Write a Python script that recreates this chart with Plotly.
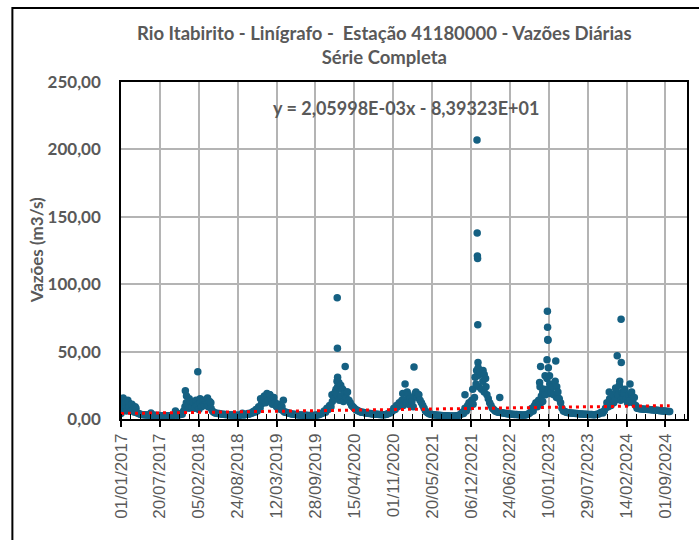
import pandas as pd
import plotly.graph_objects as go

# ---------------- data ----------------
# weekly readings of daily flow (m3/s), one value every 7 days starting 1 Jan of each year
vazao_2017 = [4, 8, 12, 10, 6, 14, 9, 6, 11, 7, 5, 8, 4.5, 4, 3.5, 3.3, 3.2,
              3.1, 3, 2.9, 2.9, 2.8, 4.5, 2.8, 2.7, 2.7, 2.6, 2.6, 2.6, 2.5, 2.5,
              2.5, 2.5, 2.4, 2.4, 2.4, 2.4, 2.5, 2.6, 2.8, 6, 2.8, 3, 3.2,
              4, 3.5, 6, 9, 12, 10, 8, 13]
vazao_2018 = [9, 12, 8, 14, 10, 7, 12, 9, 13, 10, 14, 11, 9, 13, 8, 6, 5,
              4.5, 4.2, 4, 4, 3.8, 3.6, 3.5, 3.4, 3.3, 3.2, 3.1, 3, 3, 2.9,
              2.9, 2.8, 2.8, 2.8, 2.8, 3, 4.2, 3, 3.2, 3.5, 4, 3.6, 4.5,
              4.2, 5.5, 5, 7, 6, 9, 8, 11]
vazao_2019 = [13, 16, 12, 17, 14, 18, 15, 11, 16, 12, 9, 11, 8, 7, 9, 6, 5,
              5, 4.6, 4.3, 4, 3.8, 3.6, 3.5, 3.3, 3.2, 3, 3, 2.9, 2.8, 2.8,
              2.7, 2.7, 2.6, 2.6, 2.6, 2.6, 2.6, 2.7, 2.8, 3, 3.2, 3.5, 4,
              4.5, 6, 5, 8, 7, 10, 9, 13]
vazao_2020 = [15, 20, 18, 24, 14, 17, 22, 13, 19, 16, 20, 14, 12, 10, 9, 8, 7,
              6.5, 6, 5.5, 5, 5, 4.8, 4.5, 4.4, 4.2, 4, 4, 3.8, 3.8, 3.6,
              3.5, 3.5, 3.4, 3.3, 3.2, 3.2, 3.1, 3.3, 3.5, 4, 4.5, 5, 6,
              8, 7, 10, 9, 12, 11, 14, 10]
vazao_2021 = [14, 12, 18, 11, 10, 13, 9, 17, 20, 16, 18, 14, 12, 10, 8, 6, 5,
              4.2, 3.8, 3.5, 3.3, 3.1, 3, 2.9, 2.8, 2.7, 2.6, 2.6, 2.5, 2.5, 2.4,
              2.4, 2.3, 2.3, 2.2, 2.2, 2.2, 2.3, 2.4, 2.6, 3, 3.5, 5, 4,
              8, 6, 10, 12, 9, 14, 11, 16]
vazao_2022 = [26, 32, 24, 35, 22, 28, 20, 30, 18, 15, 12, 10, 8, 7, 6, 5.5, 5,
              5, 4.8, 4.6, 4.4, 4.2, 4, 3.9, 3.8, 3.7, 3.6, 3.5, 3.4, 3.3, 3.3,
              3.2, 3.1, 3, 3, 3, 3, 3.2, 3.5, 4, 5, 8, 6, 10,
              12, 9, 14, 11, 17, 13, 22, 18]
vazao_2023 = [30, 22, 26, 20, 24, 18, 28, 16, 20, 15, 12, 8, 6, 5.5, 5, 4.8, 4.6,
              4.5, 4.4, 4.3, 4.2, 4.1, 4, 3.9, 3.8, 3.8, 3.7, 3.6, 3.5, 3.5, 3.4,
              3.4, 3.3, 3.3, 3.2, 3.2, 3.3, 3.5, 3.8, 4.5, 5, 4.5, 6, 8,
              12, 9, 15, 10, 18, 12, 14, 20]
vazao_2024 = [18, 25, 14, 20, 16, 22, 15, 12, 18, 14, 20, 12, 16, 10, 8, 7.8, 7.6,
              7.5, 7.4, 7.3, 7.2, 7.2, 7, 7, 6.9, 6.8, 6.7, 6.6, 6.5, 6.4, 6.3,
              6.2, 6.1, 6, 5.9, 5.8, 5.7, 5.6, 5.5]

# individual flood-day readings
picos_datas = ["2017-01-12", "2017-01-25", "2017-02-10", "2017-03-15",
               "2017-11-28", "2017-12-04", "2017-12-18", "2018-01-31", "2018-01-20",
               "2018-02-12", "2018-03-05", "2018-03-22", "2018-04-08",
               "2018-12-20", "2019-01-08", "2019-01-22", "2019-02-05", "2019-02-18", "2019-04-16",
               "2019-12-22", "2020-01-05", "2020-01-12", "2020-01-17", "2020-01-18", "2020-01-19",
               "2020-01-20", "2020-01-21", "2020-01-26", "2020-02-05", "2020-02-15", "2020-02-28",
               "2020-03-08",
               "2020-12-20", "2021-01-01", "2021-01-12", "2021-01-28", "2021-02-16", "2021-02-22",
               "2021-03-03", "2021-03-12",
               "2021-11-05", "2021-12-15", "2021-12-27", "2022-01-04", "2022-01-06", "2022-01-07",
               "2022-01-08", "2022-01-09", "2022-01-10", "2022-01-11", "2022-01-12", "2022-01-20",
               "2022-02-06", "2022-02-12", "2022-02-21", "2022-05-03",
               "2022-11-24", "2022-11-26", "2022-11-29", "2022-12-10", "2022-12-22", "2023-01-01",
               "2023-01-03", "2023-01-04", "2023-01-05", "2023-01-06", "2023-01-08", "2023-01-14",
               "2023-01-20", "2023-02-15", "2023-02-20", "2023-02-26",
               "2023-11-17", "2023-11-22", "2023-12-20", "2023-12-28", "2024-01-10", "2024-01-17",
               "2024-01-18", "2024-01-30", "2024-03-03", "2024-03-10"]
picos_valores = [15.5, 12.5, 12, 9,
                 21, 17, 15, 35, 13,
                 15, 14, 15.5, 12,
                 15, 17, 19, 18, 14, 14,
                 18, 16, 22, 28, 90, 52.5,
                 31, 24, 27, 25, 22, 39,
                 20,
                 19, 26, 20, 15, 38.5, 19,
                 17, 18,
                 18, 22, 31, 36, 207, 138,
                 121, 119, 70, 42, 38, 33,
                 36, 33, 24, 16,
                 27, 24, 39, 20, 32, 44,
                 80, 68, 59, 58.5, 38, 32,
                 19, 43, 24, 16,
                 20, 13, 23, 47, 28, 74,
                 42, 19, 26, 19]

# linear trend shown on the chart (Excel serial date x)
tend_a = 2.05998e-03
tend_b = -8.39323e+01

titulo = "Rio Itabirito - Linígrafo -  Estação 41180000 - Vazões Diárias<br>Série Completa"
equacao = "y = 2,05998E-03x - 8,39323E+01"
eixo_y_titulo = "Vazões (m3/s)"
x_inicio = "2017-01-01"
x_fim = "2024-12-21"
y_max = 250

# ---------------- assemble ----------------
anos = {2017: vazao_2017, 2018: vazao_2018, 2019: vazao_2019, 2020: vazao_2020,
        2021: vazao_2021, 2022: vazao_2022, 2023: vazao_2023, 2024: vazao_2024}
partes = []
for ano, vals in anos.items():
    d = pd.date_range(f"{ano}-01-01", periods=len(vals), freq="7D")
    partes.append(pd.DataFrame({"data": d, "vazao": vals}))
partes.append(pd.DataFrame({"data": pd.to_datetime(picos_datas), "vazao": picos_valores}))
df = pd.concat(partes).sort_values("data").reset_index(drop=True)

excel0 = pd.Timestamp("1899-12-30")
t0, t1 = df["data"].min(), df["data"].max()
tend_x = [t0, t1]
tend_y = [tend_a * (t - excel0).days + tend_b for t in tend_x]

cinza = "#595959"
fig = go.Figure()
fig.add_trace(go.Scatter(x=df["data"], y=df["vazao"], mode="markers",
                         marker=dict(color="#156082", size=7.5, line=dict(width=0)),
                         showlegend=False, hoverinfo="skip"))
fig.add_trace(go.Scatter(x=tend_x, y=tend_y, mode="lines",
                         line=dict(color="#ff0000", width=3, dash="3px,4px"),
                         showlegend=False, hoverinfo="skip"))

W, H = 699, 540
L, R, T, B = 121, 10, 82, 121
pw, ph = W - L - R, H - T - B


def px(x):
    return (x - L) / pw


def py(y):
    return (H - B - y) / ph


DAY = 86400000
fig.update_layout(
    width=W, height=H,
    margin=dict(l=L, r=R, t=T, b=B, pad=0),
    paper_bgcolor="white", plot_bgcolor="white",
    separators=",.",
    font=dict(family="Lato", color=cinza),
    xaxis=dict(
        type="date", range=[x_inicio, x_fim],
        tick0=x_inicio, dtick=200 * DAY, tickformat="%d/%m/%Y",
        tickangle=-90, tickfont=dict(family="Liberation Sans", size=17, color=cinza),
        ticks="outside", ticklen=6, tickwidth=1.5, tickcolor="black",
        showgrid=True, gridcolor="#b4b4b4", gridwidth=1.5,
        showline=True, linecolor="black", linewidth=1.5, mirror=True,
        minor=dict(ticks="inside", ticklen=5, tickwidth=1.2, tickcolor="black",
                   tick0=x_inicio, dtick=50 * DAY, showgrid=False),
        zeroline=False,
    ),
    yaxis=dict(
        range=[0, y_max], dtick=50, tickformat=".2f",
        tickfont=dict(family="Lato", size=17, color=cinza, weight="bold"),
        ticks="", ticklabelstandoff=15,
        showgrid=True, gridcolor="#b4b4b4", gridwidth=1.5,
        showline=True, linecolor="black", linewidth=1.5, mirror=True,
        zeroline=False,
    ),
    annotations=[
        dict(text="<b>" + titulo + "</b>", xref="paper", yref="paper",
             x=px(385), y=py(45), xanchor="center", yanchor="middle",
             showarrow=False, align="center",
             font=dict(family="Lato", size=18.5, color=cinza)),
        dict(text="<b>" + equacao + "</b>", xref="paper", yref="paper",
             x=px(407), y=py(108), xanchor="center", yanchor="middle", showarrow=False,
             font=dict(family="Lato", size=18, color=cinza)),
        dict(text="<b>" + eixo_y_titulo + "</b>", xref="paper", yref="paper",
             x=px(36), y=py(250), xanchor="center", yanchor="middle",
             showarrow=False, textangle=-90,
             font=dict(family="Lato", size=17, color=cinza)),
    ],
    shapes=[
        dict(type="rect", xref="paper", yref="paper",
             x0=px(12), x1=px(760), y0=py(600), y1=py(8),
             line=dict(color="black", width=2), fillcolor="rgba(0,0,0,0)", layer="below"),
    ],
)

fig.write_html("out.html")
